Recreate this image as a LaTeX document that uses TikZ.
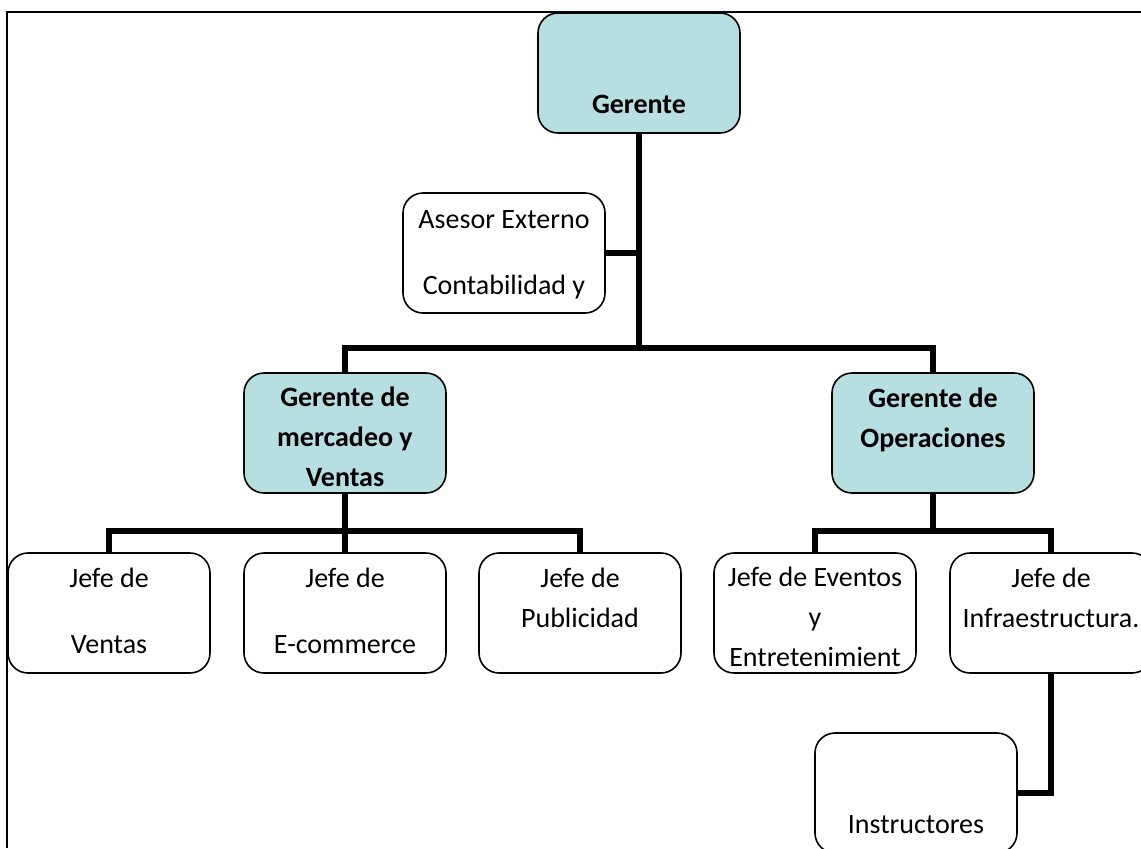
\documentclass[tikz,border=0pt]{standalone}
\usepackage{fontspec}
\setmainfont{Carlito}
\usetikzlibrary{calc,positioning}
\definecolor{cajaazul}{RGB}{183,222,225}
\tikzset{
  caja/.style={draw,rounded corners=10pt,line width=0.8pt,minimum width=101pt,minimum height=60pt,inner sep=0pt,fill=white},
  gerencia/.style={caja,fill=cajaazul},
  linea/.style={line width=3pt},
  texto/.style={align=center,anchor=base,inner sep=0pt,font=\fontsize{14}{20}\selectfont},
  textob/.style={texto,font=\fontsize{14}{20}\selectfont\bfseries},
}
\begin{document}
\begin{tikzpicture}[x=0.5pt,y=-0.5pt]
      \useasboundingbox (0,0) rectangle (1141,848);
      \draw[line width=1pt] (1141,12) -- (7,12) -- (7,848);
      \begin{scope}
        \node[gerencia](ger) at (639,73) {};
        \node[caja](ase) at (504,253) {};
        \node[gerencia](mer) at (345,433) {};
        \node[gerencia](ope) at (933,433) {};
        \node[caja](jv) at (109,613) {};
        \node[caja](je) at (345,613) {};
        \node[caja](jp) at (580,613) {};
        \node[caja](ev) at (815,613) {};
        \node[caja](inf) at (1051,613) {};
        \node[caja](ins) at (916,793) {};
        \coordinate (bus1) at (0,348);
        \coordinate (bus2) at (0,531);
        \draw[linea](ger.south) -- (ger.south |- bus1);
        \draw[linea](ase.east) -- (ase.east -| ger.south);
        \draw[linea](mer.north) |- (ope.north |- bus1) -- (ope.north);
        \draw[linea](mer.south) -- (je.north);
        \draw[linea](jv.north) |- (jp.north |- bus2) -- (jp.north);
        \draw[linea](ope.south) -- (ope.south |- bus2);
        \draw[linea](ev.north) |- (inf.north |- bus2) -- (inf.north);
        \draw[linea](inf.south) |- (ins.east);
        \node[textob](gerT) at (639,113) {Gerente};
        \node[texto](aseT) at (504,294) {Asesor Externo\\[13pt]Contabilidad y};
        \node[textob](merT) at (345,486) {Gerente de\\mercadeo y\\Ventas};
        \node[textob](opeT) at (933,447) {Gerente de\\Operaciones};
        \node[texto](jvT) at (109,653) {Jefe de\\[13pt]Ventas};
        \node[texto](jeT) at (345,653) {Jefe de\\[13pt]E-commerce};
        \node[texto](jpT) at (580,627) {Jefe de\\Publicidad};
        \node[texto](evT) at (815,666) {Jefe de Eventos\\y\\Entretenimient};
        \node[texto](infT) at (1051,627) {Jefe de\\Infraestructura.};
        \node[texto](insT) at (916,833) {Instructores};
      \end{scope}
    \end{tikzpicture}
\end{document}
